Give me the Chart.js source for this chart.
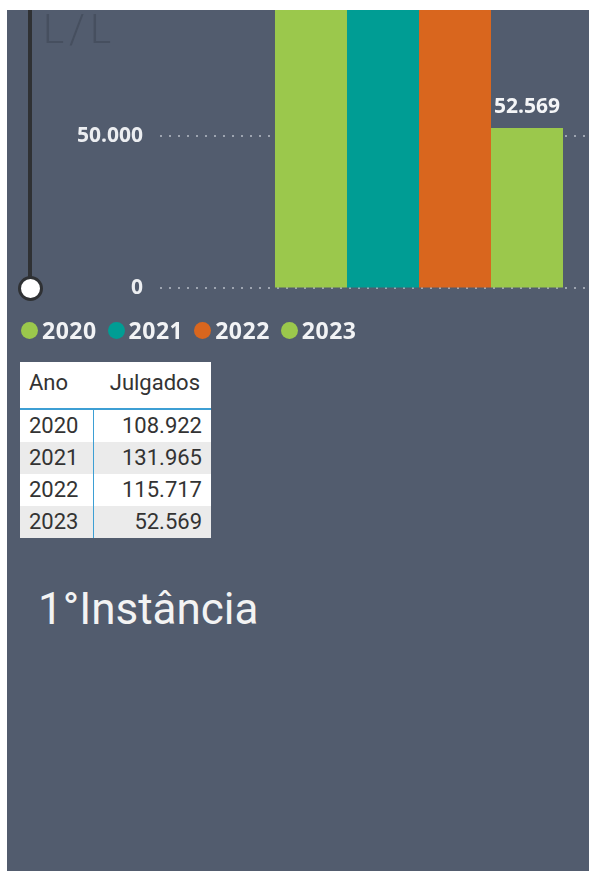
<!DOCTYPE html>
<html>
<head>
<meta charset="utf-8">
<script src="https://cdn.jsdelivr.net/npm/chart.js@4.4.1/dist/chart.umd.min.js"></script>
<style>
    html, body { margin: 0; padding: 0; background: #fff; }
    body { width: 589px; height: 871px; overflow: hidden; position: relative; font-family: Roboto, sans-serif; }
    #panel { position: absolute; left: 7px; top: 10px; width: 582px; height: 861px; background: #525c6e; overflow: hidden; }
    #chartBox { position: absolute; left: 0; top: -209px; width: 671px; height: 517px; }
    #ghost { position: absolute; left: 36px; top: 0; font: 300 40px Roboto; line-height: 40px; color: #464f5f; letter-spacing: 5px; }
    #sliderLine { position: absolute; left: 21px; top: 0; width: 4px; height: 270px; background: #2f3134; }
    #knob { position: absolute; left: 11px; top: 266px; width: 25px; height: 25px; box-sizing: border-box; border-radius: 50%; background: #fff; border: 3px solid #2f3134; }
    #legend { position: absolute; left: 14px; top: 308px; height: 24px; display: flex; align-items: center; }
    #legend .item { display: flex; align-items: center; margin-right: 11px; }
    #legend .dot { width: 17px; height: 17px; border-radius: 50%; margin-right: 4px; }
    #legend .txt { font: bold 23px "Open Sans"; color: #f2f3f5; line-height: 24px; letter-spacing: 0.5px; }
    #tbl { position: absolute; left: 13px; top: 352px; border-collapse: collapse; background: #fff; font: 22px Roboto; color: #333; }
    #tbl th { height: 47px; padding: 8px 0 0 0; vertical-align: top; font-weight: normal; box-sizing: border-box; border-bottom: 2px solid #3d9fd4; }
    #tbl th.c1 { width: 73px; text-align: left; padding-left: 9px; }
    #tbl th.c2 { width: 118px; text-align: right; padding-right: 11px; }
    #tbl td { height: 32px; padding: 0; line-height: 32px; }
    #tbl td.c1 { padding-left: 9px; border-right: 1.5px solid #3d9fd4; }
    #tbl td.c2 { text-align: right; padding-right: 9px; }
    #tbl tr.alt td { background: #ebebeb; }
    #title { position: absolute; left: 31px; top: 577px; font: 400 44px Roboto; line-height: 44px; color: #f3f3f3; white-space: nowrap; }
</style>
</head>
<body>
<div id="panel">
    <div id="chartBox"><canvas id="chart"></canvas></div>
    <div id="ghost">L/L</div>
    <div id="sliderLine"></div>
    <div id="knob"></div>
    <div id="legend"></div>
    <table id="tbl">
        <thead><tr><th class="c1">Ano</th><th class="c2">Julgados</th></tr></thead>
        <tbody></tbody>
    </table>
    <div id="title">1°Instância</div>
</div>
<script>
// Data
const years = ['2020', '2021', '2022', '2023'];
const julgados = [108922, 131965, 115717, 52569];
const yMax = 150000;
const yStep = 50000;

const barColors = ['#9bc84c', '#009d94', '#d9661e', '#9bc84c'];

// 52569 -> "52.569"
function fmt(v) {
    return String(v).replace(/\B(?=(\d{3})+(?!\d))/g, '.');
}

// Value labels above the bars
const valueLabels = {
    id: 'valueLabels',
    afterDatasetsDraw(chart) {
        const ctx = chart.ctx;
        ctx.save();
        ctx.font = 'bold 21px "Open Sans"';
        ctx.fillStyle = '#f4f5f7';
        ctx.textAlign = 'center';
        ctx.textBaseline = 'alphabetic';
        chart.data.datasets.forEach((ds, i) => {
            const bar = chart.getDatasetMeta(i).data[0];
            ctx.fillText(fmt(ds.data[0]), bar.x, bar.y - 15);
        });
        ctx.restore();
    }
};

const chart = new Chart(document.getElementById('chart').getContext('2d'), {
    type: 'bar',
    data: {
        labels: [''],
        datasets: years.map((y, i) => ({
            label: y,
            data: [julgados[i]],
            backgroundColor: barColors[i],
            borderWidth: 0
        }))
    },
    options: {
        responsive: true,
        maintainAspectRatio: false,
        animation: false,
        layout: { padding: 0 },
        datasets: { bar: { categoryPercentage: 0.556, barPercentage: 1 } },
        plugins: { legend: { display: false }, tooltip: { enabled: false } },
        scales: {
            x: { display: false },
            y: {
                min: 0,
                max: yMax,
                afterFit: (scale) => { scale.width = 153; },
                ticks: {
                    stepSize: yStep,
                    padding: 17,
                    color: '#eceef1',
                    font: { family: 'Open Sans', weight: 'bold', size: 21 },
                    callback: (v) => fmt(v)
                },
                grid: { color: '#9ea5b1', lineWidth: 2, drawTicks: false },
                border: { display: false, dash: [2, 7] }
            }
        }
    },
    plugins: [valueLabels]
});

// Legend (built from the datasets)
const legend = document.getElementById('legend');
chart.data.datasets.forEach((ds) => {
    const item = document.createElement('div');
    item.className = 'item';
    item.innerHTML = '<span class="dot" style="background:' + ds.backgroundColor + '"></span><span class="txt">' + ds.label + '</span>';
    legend.appendChild(item);
});

// Table
const tbody = document.querySelector('#tbl tbody');
years.forEach((y, i) => {
    const tr = document.createElement('tr');
    if (i % 2 === 1) tr.className = 'alt';
    tr.innerHTML = '<td class="c1">' + y + '</td><td class="c2">' + fmt(julgados[i]) + '</td>';
    tbody.appendChild(tr);
});
</script>
</body>
</html>
